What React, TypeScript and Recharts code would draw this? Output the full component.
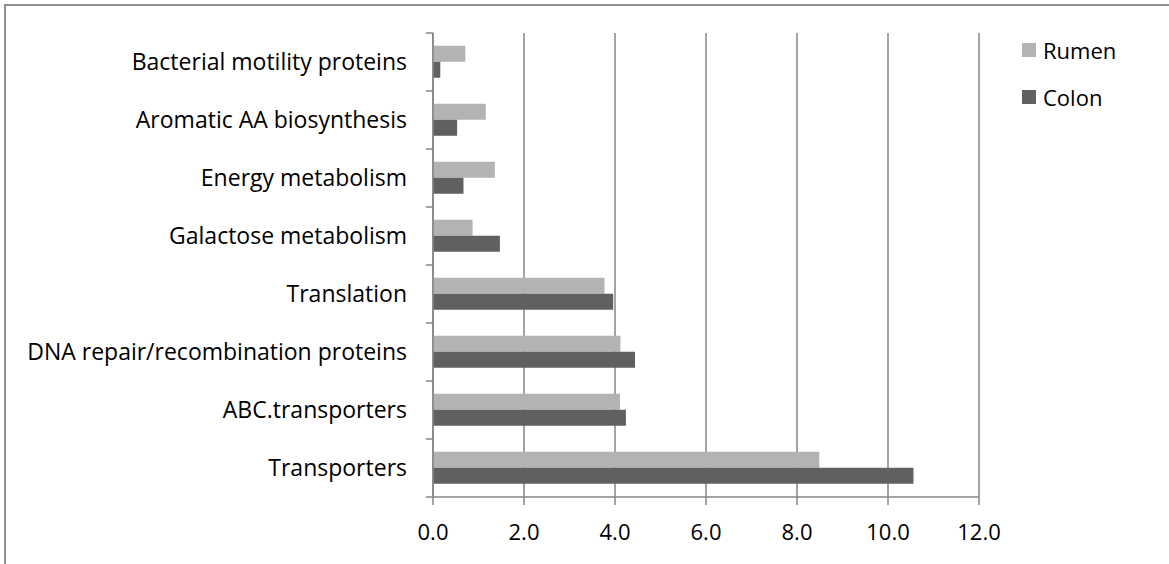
import { BarChart, Bar, XAxis, YAxis, CartesianGrid, Legend } from "recharts"

const categories = [
  "Bacterial motility proteins",
  "Aromatic AA biosynthesis",
  "Energy metabolism",
  "Galactose metabolism",
  "Translation",
  "DNA repair/recombination proteins",
  "ABC.transporters",
  "Transporters",
]
const rumen = [0.71, 1.16, 1.36, 0.87, 3.77, 4.12, 4.11, 8.49]
const colon = [0.16, 0.53, 0.67, 1.47, 3.96, 4.44, 4.24, 10.56]
const xTicks = [0, 2, 4, 6, 8, 10, 12]

const data = categories.map((name, i) => ({ name, rumen: rumen[i], colon: colon[i] }))

const W = 1169
const H = 564
const TOP = 33
const BOTTOM_AXIS = 67
const Y_AXIS_W = 433
const FONT = "'Open Sans', sans-serif"
const FONT_SIZE = 22
const AXIS_GRAY = "#868686"
const TICK_GAP = 26
const HALF_BAND = (H - TOP - BOTTOM_AXIS) / categories.length / 2

function CategoryTick(props: any) {
  const { x, y, payload, index } = props
  const ax = x + TICK_GAP
  return (
    <g>
      <line x1={ax - 7} x2={ax} y1={y - HALF_BAND} y2={y - HALF_BAND} stroke={AXIS_GRAY} strokeWidth={1.5} />
      {index === categories.length - 1 && (
        <line x1={ax - 7} x2={ax} y1={y + HALF_BAND} y2={y + HALF_BAND} stroke={AXIS_GRAY} strokeWidth={1.5} />
      )}
      <text x={x} y={y} dy="0.36em" textAnchor="end" fill="#000" fontSize={23} fontFamily={FONT}>
        {payload.value}
      </text>
    </g>
  )
}

function LegendBox() {
  const items = [
    { label: "Rumen", color: "#b3b3b3" },
    { label: "Colon", color: "#606060" },
  ]
  return (
    <div style={{ fontFamily: FONT, fontSize: FONT_SIZE, color: "#000", lineHeight: 1 }}>
      {items.map((it) => (
        <div key={it.label} style={{ display: "flex", alignItems: "center", height: 47 }}>
          <span style={{ width: 14, height: 14, background: it.color, marginRight: 7, display: "inline-block" }} />
          <span>{it.label}</span>
        </div>
      ))}
    </div>
  )
}

export default function App() {
  return (
    <div style={{ position: "fixed", left: 0, top: 0, width: W, height: H, background: "#fff", overflow: "hidden" }}>
      <div
        style={{
          position: "absolute",
          left: 4,
          top: 4,
          width: W + 20,
          height: H + 20,
          borderTop: "2px solid #919191",
          borderLeft: "2px solid #919191",
        }}
      />
      <BarChart
        width={W}
        height={H}
        data={data}
        layout="vertical"
        margin={{ top: TOP, right: 190, bottom: 0, left: 0 }}
        barCategoryGap="22%"
        barGap={0}
        style={{ position: "absolute", left: 0, top: 0 }}
      >
        <CartesianGrid horizontal={false} stroke={AXIS_GRAY} strokeWidth={1.5} />
        <XAxis
          type="number"
          domain={[0, 12]}
          ticks={xTicks}
          interval={0}
          height={BOTTOM_AXIS}
          tickFormatter={(v: number) => v.toFixed(1)}
          tick={{ fill: "#000", fontSize: FONT_SIZE, fontFamily: FONT }}
          tickSize={8}
          tickMargin={19}
          stroke={AXIS_GRAY}
          strokeWidth={1.5}
        />
        <YAxis
          type="category"
          dataKey="name"
          width={Y_AXIS_W}
          interval={0}
          tickLine={false}
          tickSize={0}
          tickMargin={TICK_GAP}
          tick={<CategoryTick />}
          stroke={AXIS_GRAY}
          strokeWidth={1.5}
        />
        <Legend
          verticalAlign="middle"
          align="center"
          content={<LegendBox />}
          wrapperStyle={{ position: "absolute", left: 1022, top: 26, width: 140 }}
        />
        <Bar dataKey="rumen" name="Rumen" fill="#b3b3b3" isAnimationActive={false} />
        <Bar dataKey="colon" name="Colon" fill="#606060" isAnimationActive={false} />
      </BarChart>
    </div>
  )
}
